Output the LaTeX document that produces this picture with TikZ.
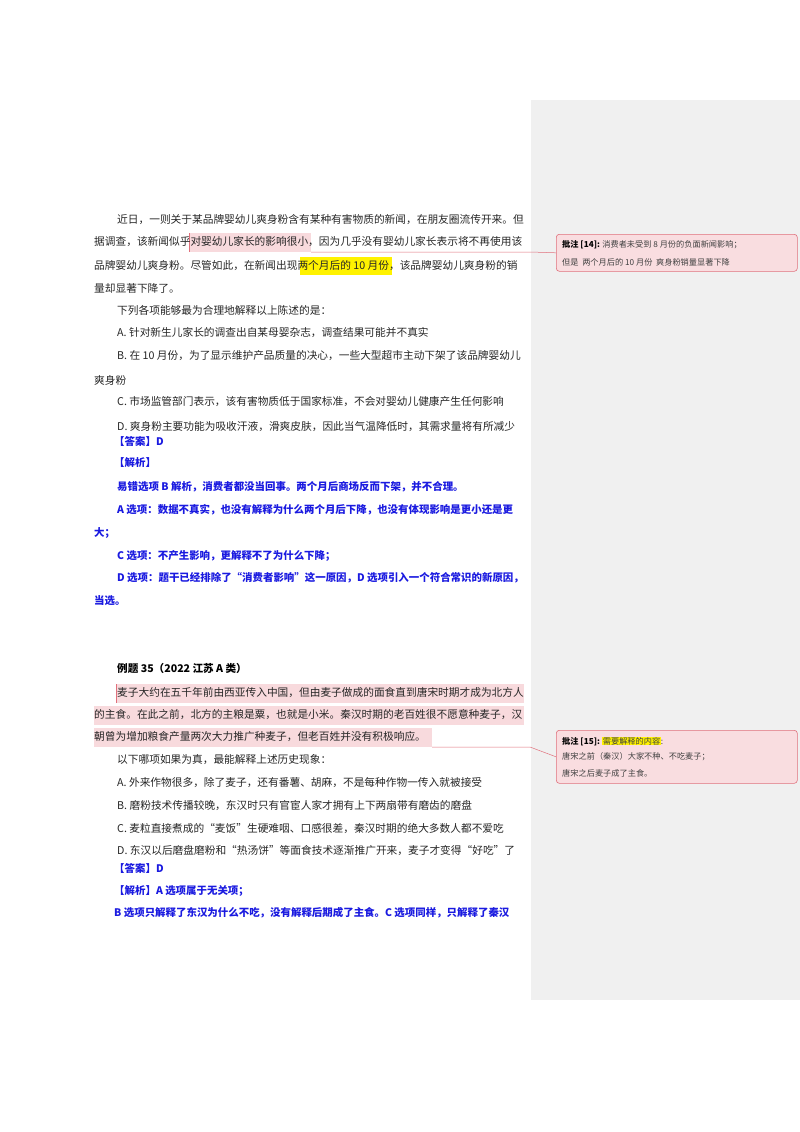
\documentclass[tikz,border=0pt]{standalone}
\usepackage{fontspec}
\newfontfamily\cjk{Noto Sans CJK SC}
\definecolor{bluetxt}{HTML}{1A1AE0}
\definecolor{pinkhl}{HTML}{F8DADD}
\definecolor{pinkln}{HTML}{E0707C}
\definecolor{sidegray}{HTML}{F0F0F0}
\definecolor{yelhl}{HTML}{FFF200}
\definecolor{cboxfill}{HTML}{F9DDE0}
\begin{document}
\begin{tikzpicture}[x=1pt,y=-1pt,
  body/.style={anchor=west,inner sep=0pt,font=\cjk\fontsize{10.7}{12}\selectfont,text=black!85},
  bl/.style={anchor=west,inner sep=0pt,font=\cjk\bfseries\fontsize{10.45}{12}\selectfont,text=bluetxt},
  hd/.style={anchor=west,inner sep=0pt,font=\cjk\bfseries\fontsize{10.6}{12}\selectfont,text=black},
  cmt/.style={anchor=west,inner sep=0pt,font=\cjk\fontsize{8.2}{9}\selectfont,text=black!75},
  cbx/.style={draw=pinkln,fill=cboxfill,rounded corners=3pt,line width=0.6pt},
  lead/.style={draw=pinkln,line width=0.5pt}]
\useasboundingbox (0,0) rectangle (800,1132);
\fill[white] (0,0) rectangle (800,1132);
\fill[sidegray] (531,100) rectangle (800,1000);
% highlights
\fill[pinkhl] (189,233) rectangle (311,252);
\fill[yelhl] (300,257) rectangle (392,275);
\fill[pinkhl] (116,684) rectangle (524,703);
\fill[pinkhl] (94,706) rectangle (524,725);
\fill[pinkhl] (94,728) rectangle (432,747);
% comment boxes
\node[cbx,minimum width=241pt,minimum height=37pt,anchor=north west] (c1) at (556,234) {};
\node[cbx,minimum width=241pt,minimum height=53pt,anchor=north west] (c2) at (556,730) {};
\coordinate (h1) at (311,252);
\coordinate (h1b) at (530,252);
\coordinate (h2) at (432,747);
\coordinate (h2b) at (530,747);
\draw[lead] (h1) -- (h1b) -- (c1.west);
\draw[lead] (h2) -- (h2b) -- (c2.west);
\draw[lead] (189,233) -- (189,252);
\draw[lead] (116,684) -- (116,703);
% comment texts
\node[cmt] (c1a) at (562,245) {{\bfseries\color{black}批注 [14]:} 消费者未受到 8 月份的负面新闻影响；};
\node[cmt] (c1b) at (562,262) {但是 \ 两个月后的 10 月份 \ 爽身粉销量显著下降};
\node[cmt] (c2a) at (562,741) {{\bfseries\color{black}批注 [15]:} {\setlength{\fboxsep}{0.5pt}\colorbox{yelhl}{需要解释的内容}}:};
\node[cmt] (c2b) at (562,757) {唐宋之前（秦汉）大家不种、不吃麦子；};
\node[cmt] (c2c) at (562,773) {唐宋之后麦子成了主食。};
% part 1
\node[body] (l1) at (117,220) {近日，一则关于某品牌婴幼儿爽身粉含有某种有害物质的新闻，在朋友圈流传开来。但};
\node[body] (l2) at (94,242) {据调查，该新闻似乎对婴幼儿家长的影响很小，因为几乎没有婴幼儿家长表示将不再使用该};
\node[body] (l3) at (94,266) {品牌婴幼儿爽身粉。尽管如此，在新闻出现两个月后的 10 月份，该品牌婴幼儿爽身粉的销};
\node[body] (l4) at (94,288) {量却显著下降了。};
\node[body] (l5) at (117,310) {下列各项能够最为合理地解释以上陈述的是：};
\node[body] (l6) at (117,333) {A. 针对新生儿家长的调查出自某母婴杂志，调查结果可能并不真实};
\node[body] (l7) at (117,356) {B. 在 10 月份，为了显示维护产品质量的决心，一些大型超市主动下架了该品牌婴幼儿};
\node[body] (l8) at (94,380) {爽身粉};
\node[body] (l9) at (117,402) {C. 市场监管部门表示，该有害物质低于国家标准，不会对婴幼儿健康产生任何影响};
\node[body] (l10) at (117,427) {D. 爽身粉主要功能为吸收汗液，滑爽皮肤，因此当气温降低时，其需求量将有所减少};
\node[bl] (a1) at (114,441) {【答案】D};
\node[bl] (a2) at (114,463) {【解析】};
\node[bl] (a3) at (117,487) {易错选项 B 解析，消费者都没当回事。两个月后商场反而下架，并不合理。};
\node[bl] (a4) at (117,510) {A 选项：数据不真实，也没有解释为什么两个月后下降，也没有体现影响是更小还是更};
\node[bl] (a5) at (94,533) {大；};
\node[bl] (a6) at (117,556) {C 选项：不产生影响，更解释不了为什么下降；};
\node[bl] (a7) at (117,578) {D 选项：题干已经排除了“消费者影响”这一原因，D 选项引入一个符合常识的新原因，};
\node[bl] (a8) at (94,601) {当选。};
% part 2
\node[hd] (t2) at (117,668) {例题 35（2022 江苏 A 类）};
\node[body] (m1) at (117,693) {麦子大约在五千年前由西亚传入中国，但由麦子做成的面食直到唐宋时期才成为北方人};
\node[body] (m2) at (94,715) {的主食。在此之前，北方的主粮是粟，也就是小米。秦汉时期的老百姓很不愿意种麦子，汉};
\node[body] (m3) at (94,737) {朝曾为增加粮食产量两次大力推广种麦子，但老百姓并没有积极响应。};
\node[body] (m4) at (117,760) {以下哪项如果为真，最能解释上述历史现象：};
\node[body] (m5) at (117,783) {A. 外来作物很多，除了麦子，还有番薯、胡麻，不是每种作物一传入就被接受};
\node[body] (m6) at (117,806) {B. 磨粉技术传播较晚，东汉时只有官宦人家才拥有上下两扇带有磨齿的磨盘};
\node[body] (m7) at (117,829) {C. 麦粒直接煮成的“麦饭”生硬难咽、口感很差，秦汉时期的绝大多数人都不爱吃};
\node[body] (m8) at (117,851) {D. 东汉以后磨盘磨粉和“热汤饼”等面食技术逐渐推广开来，麦子才变得“好吃”了};
\node[bl] (b1) at (114,868) {【答案】D};
\node[bl] (b2) at (114,891) {【解析】A 选项属于无关项；};
\node[bl] (b3) at (114,913) {B 选项只解释了东汉为什么不吃，没有解释后期成了主食。C 选项同样，只解释了秦汉};
\end{tikzpicture}
\end{document}
